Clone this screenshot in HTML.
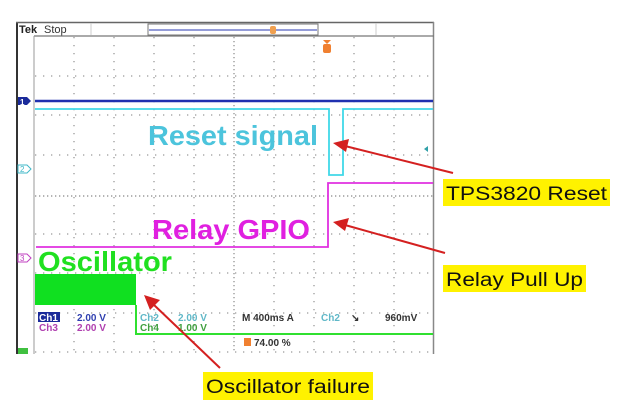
<!DOCTYPE html>
<html><head><style>
html,body{margin:0;padding:0;background:#fff;width:622px;height:412px;overflow:hidden}
svg{display:block;font-family:"Liberation Sans",sans-serif}
</style></head><body>
<svg width="622" height="412" viewBox="0 0 622 412">
<rect x="16" y="22" width="418" height="332" fill="#fff"/>
<line x1="17" y1="22" x2="17" y2="354" stroke="#333" stroke-width="2"/>
<line x1="16" y1="22.5" x2="434" y2="22.5" stroke="#666" stroke-width="1.5"/>
<line x1="433.5" y1="22" x2="433.5" y2="354" stroke="#888" stroke-width="1.5"/>
<line x1="34" y1="36" x2="434" y2="36" stroke="#777" stroke-width="1.2"/>
<line x1="34" y1="36" x2="34" y2="354" stroke="#999" stroke-width="1"/>
<line x1="91" y1="23" x2="91" y2="35" stroke="#ccc"/>
<line x1="376" y1="23" x2="376" y2="35" stroke="#ccc"/>
<text x="19" y="33" font-size="11" font-weight="bold" fill="#222">Tek</text>
<text x="44" y="33" font-size="11" fill="#333">Stop</text>
<rect x="148" y="24" width="170" height="11" fill="none" stroke="#777"/>
<line x1="149" y1="30" x2="317" y2="30" stroke="#5560c0" stroke-width="1.2"/>
<rect x="270" y="26" width="6" height="8" rx="2" fill="#f0a050"/>
<path d="M323 40 L331 40 L327 44 Z" fill="#f08030"/>
<rect x="323" y="44" width="8" height="9" rx="2" fill="#f08030"/>
<g stroke="#999" stroke-width="1.3" stroke-dasharray="1.3,6.7">
<line x1="74" y1="37" x2="74" y2="352"/><line x1="114" y1="37" x2="114" y2="352"/>
<line x1="154" y1="37" x2="154" y2="352"/><line x1="194" y1="37" x2="194" y2="352"/>
<line x1="274" y1="37" x2="274" y2="352"/><line x1="314" y1="37" x2="314" y2="352"/>
<line x1="354" y1="37" x2="354" y2="352"/><line x1="394" y1="37" x2="394" y2="352"/>
<line x1="35" y1="76" x2="433" y2="76"/><line x1="35" y1="115" x2="433" y2="115"/>
<line x1="35" y1="155" x2="433" y2="155"/><line x1="35" y1="234" x2="433" y2="234"/>
<line x1="35" y1="273" x2="433" y2="273"/><line x1="35" y1="313" x2="433" y2="313"/>
<line x1="35" y1="352" x2="433" y2="352"/>
</g>
<g stroke="#888" stroke-width="1.2">
<line x1="234" y1="37" x2="234" y2="352" stroke-dasharray="1.3,2.7"/>
<line x1="35" y1="196" x2="433" y2="196" stroke-dasharray="1.3,2.7"/>
</g>
<path d="M18 97 L27 97 L31 101 L27 105 L18 105 Z" fill="#1a2a9a"/>
<text x="20" y="105" font-size="8" fill="#fff" font-weight="bold">1</text>
<path d="M18 165 L27 165 L31 169 L27 173 L18 173 Z" fill="#fff" stroke="#40b8c8"/>
<text x="20" y="172" font-size="8" fill="#40b8c8">2</text>
<path d="M18 254 L27 254 L31 258 L27 262 L18 262 Z" fill="#fff" stroke="#c040c0"/>
<text x="20" y="261" font-size="8" fill="#c040c0">3</text>
<rect x="18" y="348" width="10" height="6" fill="#40c040"/>
<line x1="35" y1="101" x2="433" y2="101" stroke="#2030b0" stroke-width="2.5"/>
<polyline points="35,109 329,109 329,175 343,175 343,109 433,109" fill="none" stroke="#40d8e8" stroke-width="1.8"/>
<path d="M424 149 L428 146 L428 152 Z" fill="#30a0a8"/>
<polyline points="36,247 328,247 328,183 433,183" fill="none" stroke="#e030e0" stroke-width="1.8"/>
<rect x="35" y="274" width="101" height="31" fill="#10e020"/>
<polyline points="136,305 136,334 433,334" fill="none" stroke="#30e030" stroke-width="2"/>
<text x="148" y="145" font-size="28" font-weight="bold" fill="#4cc4dc" textLength="170" lengthAdjust="spacingAndGlyphs">Reset signal</text>
<text x="152" y="239" font-size="28" font-weight="bold" fill="#e020e0" textLength="158" lengthAdjust="spacingAndGlyphs">Relay GPIO</text>
<text x="38" y="271" font-size="28" font-weight="bold" fill="#20e020" textLength="134" lengthAdjust="spacingAndGlyphs">Oscillator</text>
<rect x="38" y="312" width="22" height="10" fill="#1a2a9a"/>
<g font-size="10" font-weight="bold">
<text x="39" y="321" fill="#fff">Ch1</text>
<text x="77" y="321" fill="#3040b0">2.00 V</text>
<text x="140" y="321" fill="#60b8c8">Ch2</text>
<text x="178" y="321" fill="#60b8c8">2.00 V</text>
<text x="242" y="321" fill="#333">M 400ms  A</text>
<text x="321" y="321" fill="#60b8c8">Ch2</text>
<text x="351" y="321" fill="#333">↘</text>
<text x="385" y="321" fill="#333">960mV</text>
<text x="39" y="331" fill="#b040b0">Ch3</text>
<text x="77" y="331" fill="#b040b0">2.00 V</text>
<text x="140" y="331" fill="#40a040">Ch4</text>
<text x="178" y="331" fill="#40a040">1.00 V</text>
<rect x="244" y="338" width="7" height="8" fill="#f08030"/>
<text x="254" y="346" fill="#333">74.00 %</text>
</g>
<g stroke="#d42020" stroke-width="2" fill="#d42020">
<line x1="453" y1="173" x2="345" y2="146"/>
<path d="M333 143 L349 139 L346 152 Z" stroke="none"/>
<line x1="445" y1="253" x2="345" y2="225"/>
<path d="M333 222 L349 218 L345 231 Z" stroke="none"/>
<line x1="220" y1="368" x2="153" y2="304"/>
<path d="M144 295 L160 300 L150 310 Z" stroke="none"/>
</g>
<rect x="443" y="179" width="167" height="27" fill="#fff200"/>
<text x="446" y="200" font-size="19" fill="#111" textLength="161" lengthAdjust="spacingAndGlyphs">TPS3820 Reset</text>
<rect x="443" y="265" width="143" height="27" fill="#fff200"/>
<text x="446" y="286" font-size="19" fill="#111" textLength="137" lengthAdjust="spacingAndGlyphs">Relay Pull Up</text>
<rect x="203" y="372" width="170" height="28" fill="#fff200"/>
<text x="206" y="393" font-size="19" fill="#111" textLength="164" lengthAdjust="spacingAndGlyphs">Oscillator failure</text>
</svg>
</body></html>
